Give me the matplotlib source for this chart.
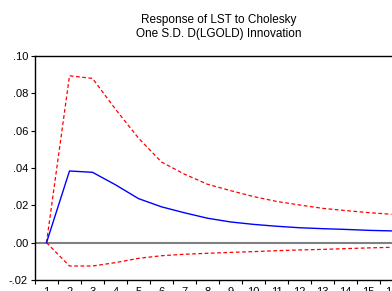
import numpy as np
import matplotlib.pyplot as plt

plt.rcParams['font.family'] = ['Liberation Sans', 'DejaVu Sans']

periods = list(range(1, 17))
response = [0.0, 0.0384, 0.0377, 0.0310, 0.0236, 0.0192, 0.0160, 0.0131,
            0.0111, 0.0098, 0.0088, 0.0080, 0.0075, 0.0071, 0.0066, 0.0063]
upper = [0.0, 0.0894, 0.0880, 0.0715, 0.0560, 0.0432, 0.0367, 0.0313,
         0.0279, 0.0247, 0.0221, 0.0202, 0.0184, 0.0172, 0.0161, 0.0152]
lower = [0.0, -0.0125, -0.0125, -0.0107, -0.0084, -0.0070, -0.0062, -0.0057,
         -0.0052, -0.0048, -0.0043, -0.0039, -0.0036, -0.0032, -0.0028, -0.0025]
yticks = [-0.02, 0.0, 0.02, 0.04, 0.06, 0.08, 0.10]
ylabels = ['-.02', '.00', '.02', '.04', '.06', '.08', '.10']

fig = plt.figure(figsize=(3.92, 2.91), dpi=100)
ax = fig.add_axes([35/392, 1 - 280/291, 368/392, 224/291])

ax.axhline(0, color='#808080', lw=1.5, zorder=1)
ax.plot(periods, upper, color='red', lw=0.9, ls=(0, (3, 2)), zorder=2)
ax.plot(periods, lower, color='red', lw=0.9, ls=(0, (3, 2)), zorder=2)
ax.plot(periods, response, color='blue', lw=1.0, zorder=3)

ax.set_xlim(0.5, 16.5)
ax.set_ylim(-0.02, 0.10)
ax.set_yticks(yticks)
ax.set_yticklabels(ylabels)
ax.set_xticks(periods)
ax.set_xticklabels([str(p) for p in periods])
ax.set_xticks(np.arange(0.5, 17, 1), minor=True)
ax.tick_params(axis='x', which='major', length=0, labelsize=8, pad=5)
ax.tick_params(axis='x', which='minor', length=3, direction='out', width=0.8)
ax.tick_params(axis='y', length=3, width=0.8, labelsize=8, pad=2)
for s in ax.spines.values():
    s.set_linewidth(1.0)

ax.set_title('Response of LST to Cholesky\nOne S.D. D(LGOLD) Innovation',
             fontsize=8.5, pad=14, linespacing=1.2)

fig.savefig('out.png', dpi=100)
